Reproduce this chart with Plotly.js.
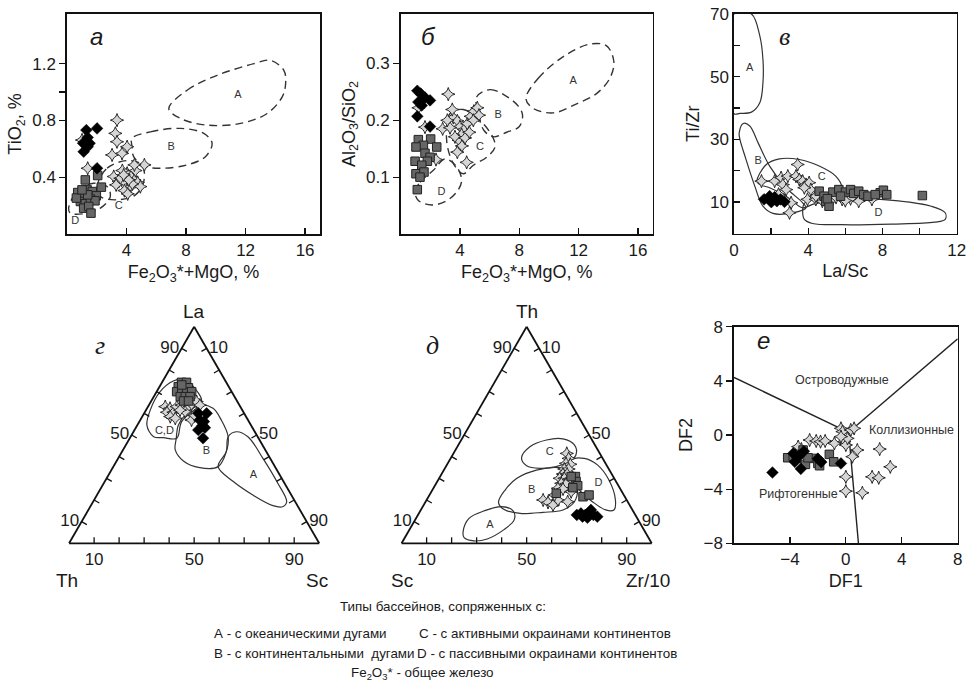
<!DOCTYPE html>
<html><head><meta charset="utf-8">
<script src="https://cdn.plot.ly/plotly-3.0.1.min.js"></script>
<style>html,body{margin:0;padding:0;background:#fff}#chart{width:967px;height:700px}</style>
</head><body><div id="chart"></div>
<script>
// ---------- Panel а: TiO2 vs Fe2O3*+MgO ----------
const a_fieldA = [[6.84,0.884],[8.07,1.013],[10.09,1.118],[12.56,1.2],[13.68,1.223],[14.57,1.153],[14.69,1.06],[14.46,0.966],[13.45,0.849],[11.66,0.779],[9.42,0.767],[7.62,0.814]];
const a_fieldB = [[4.37,0.674],[5.61,0.72],[7.62,0.744],[9.19,0.709],[9.75,0.639],[9.3,0.545],[8.07,0.487],[6.28,0.463],[5.16,0.48],[4.48,0.545],[4.37,0.615]];
const a_fieldC = [[2.02,0.334],[2.69,0.463],[4.04,0.517],[5.04,0.487],[5.16,0.37],[4.6,0.276],[3.36,0.241],[2.24,0.264]];
const a_fieldD = [[0.11,0.182],[0.67,0.299],[1.79,0.358],[2.69,0.334],[2.91,0.264],[2.24,0.182],[1.12,0.143],[0.22,0.147]];
const a_labels = [['A',11.48,0.978],['B',7.0,0.608],['C',3.48,0.194],['D',0.56,0.089]];
const a_diamonds = [[1.3,0.732],[2.02,0.744],[1.39,0.68],[1.23,0.643],[1.52,0.639],[1.12,0.58],[1.39,0.615],[2.02,0.463],[1.08,0.64]];
const a_squares = [[1.23,0.381],[2.06,0.412],[0.72,0.292],[1.01,0.26],[1.35,0.311],[1.7,0.299],[1.97,0.269],[2.31,0.33],[0.9,0.229],[1.23,0.213],[1.57,0.246],[1.88,0.234],[1.12,0.182],[1.46,0.194],[1.61,0.147],[0.63,0.253],[1.39,0.276],[1.01,0.311]];
const a_stars = [[3.36,0.802],[3.25,0.709],[3.36,0.65],[3.03,0.557],[3.7,0.568],[4.04,0.615],[1.39,0.463],[1.01,0.662],[3.14,0.405],[3.48,0.37],[3.81,0.353],[4.04,0.428],[4.3,0.405],[4.53,0.381],[4.75,0.363],[4.26,0.33],[3.86,0.306],[3.59,0.393],[4.6,0.447],[4.93,0.334],[5.2,0.487],[4.53,0.487],[3.72,0.447],[4.08,0.283],[4.39,0.353],[3.3,0.346],[4.15,0.381],[3.81,0.416]];

// ---------- Panel б: Al2O3/SiO2 vs Fe2O3*+MgO ----------
const b_fieldA = [[8.45,0.238],[9.28,0.274],[10.97,0.312],[12.76,0.334],[13.89,0.331],[14.38,0.303],[14.11,0.274],[13.21,0.247],[11.87,0.229],[10.29,0.213],[8.94,0.221]];
const b_fieldB = [[5.12,0.241],[6.02,0.254],[7.03,0.244],[7.93,0.225],[8.22,0.209],[8.0,0.189],[7.15,0.179],[6.25,0.171],[5.62,0.182],[5.24,0.212]];
const b_fieldC = [[3.33,0.212],[4.22,0.219],[5.35,0.2],[6.2,0.171],[6.36,0.153],[5.8,0.135],[4.9,0.121],[4.22,0.106],[3.55,0.124],[3.1,0.165]];
const b_fieldD = [[0.97,0.074],[1.3,0.091],[2.2,0.112],[2.99,0.132],[3.78,0.118],[4.11,0.094],[3.78,0.074],[2.99,0.057],[2.09,0.051],[1.19,0.059]];
const b_labels = [['A',11.64,0.268],['B',6.58,0.209],['C',5.35,0.153],['D',2.76,0.074]];
const b_diamonds = [[1.12,0.252],[1.35,0.247],[1.19,0.232],[1.42,0.226],[1.12,0.207],[1.98,0.235],[1.98,0.189],[1.64,0.24]];
const b_squares = [[1.19,0.166],[2.02,0.167],[1.53,0.156],[2.43,0.153],[1.03,0.153],[1.64,0.142],[1.98,0.135],[0.97,0.128],[1.8,0.128],[1.42,0.121],[1.03,0.106],[1.57,0.109],[1.3,0.1],[1.12,0.078]];
const b_stars = [[3.21,0.246],[2.83,0.185],[1.64,0.188],[2.38,0.131],[3.55,0.205],[3.82,0.199],[4.0,0.189],[4.27,0.184],[4.49,0.194],[4.72,0.207],[4.94,0.216],[5.17,0.222],[5.28,0.209],[4.11,0.175],[3.91,0.165],[3.66,0.171],[4.13,0.155],[3.82,0.144],[3.33,0.187],[4.34,0.169],[4.63,0.179],[4.9,0.2],[4.45,0.126],[3.15,0.2],[3.48,0.219],[1.2,0.222]];

// ---------- Panel в: Ti/Zr vs La/Sc ----------
const v_fieldA = [[0,70],[0.94,70],[1.39,63],[1.56,55.5],[1.56,48.1],[1.39,41.7],[0.94,38.7],[0.32,38.3],[0,38.2]];
const v_fieldB = [[0.28,32.1],[0.5,35.1],[0.85,34.3],[1.3,28.9],[1.92,21.5],[2.81,14.6],[3.7,9.8],[3.88,8.2],[3.16,6.6],[2.1,6.4],[1.56,8.7],[1.12,15.1],[0.59,24.7],[0.32,30]];
const v_fieldC = [[1.24,16.7],[1.74,22],[2.45,23.8],[3.52,23.6],[4.59,21.5],[5.48,18.3],[5.8,14.6],[5.3,10.9],[4.23,9.3],[3.7,8.2],[2.81,11.9],[1.92,14.6],[1.39,15.6]];
const v_fieldD = [[3.79,9.6],[4.41,10.9],[6.72,11.1],[8.85,10.4],[10.63,8.7],[11.38,6.6],[11.38,4.5],[10.81,3.6],[8.5,3],[5.83,2.8],[4.23,3.2],[3.79,4.5],[3.7,7.1]];
const v_labels = [['A',0.85,52.6],['B',1.3,23.1],['C',4.73,17.8],['D',7.79,6.6]];
const v_diamonds = [[1.62,10.9],[2.01,10],[2.19,11.6],[2.51,10.9],[2.72,10.1],[1.92,11.9],[2.31,10.3]];
const v_squares = [[4.59,13.5],[4.85,11.9],[4.94,10.3],[5.12,8.7],[5.33,13.2],[5.65,14],[6.01,13.2],[6.28,14],[6.45,12.8],[6.72,13.5],[6.99,12.4],[7.22,11.9],[7.88,13],[8.05,13.8],[8.23,12.4],[7.61,12.4],[10.15,12.1],[5.74,11.9],[5.03,11.1]];
const v_stars = [[1.48,16.7],[2.19,16.7],[2.54,17.8],[2.9,18.3],[3.43,22],[3.34,18.3],[3.52,17.2],[3.7,16.7],[3.88,15.6],[4.05,16.2],[4.14,14],[3.79,14.6],[2.63,15.6],[2.81,14],[3.08,9.8],[2.99,6.6],[3.96,10.9],[4.41,10.9],[4.76,10.3],[5.3,10.9],[5.83,10.9],[6.28,11.1],[6.72,10.3],[7.43,10.9],[4.41,11.9],[5.5,11.5],[6.0,10.5],[2.4,12.5]];

// ---------- Panel г: La – Th – Sc (ternary) ----------
const g_fieldCD = [[49.2,41.6,9.2],[54.6,41.6,3.8],[61.5,36.8,1.7],[70,28.6,1.4],[74.9,20.9,4.2],[75.8,15.7,8.5],[71.5,14,14.5],[65.4,14.3,20.3],[56.2,26.9,16.9],[48.5,32.7,18.8],[48.8,37.9,13.3]];
const g_fieldB = [[48.5,32.9,18.6],[54.6,29,16.4],[60,23,17],[63.8,15.8,20.4],[62.3,11.3,26.4],[56.9,10.7,32.4],[49.2,11.8,39],[42.3,16,41.7],[35.4,22.7,41.9],[34.9,30.3,34.8],[38,35.3,26.7],[43.1,36,20.9]];
const g_fieldA = [[49.2,11.8,39],[51.5,7.4,41.1],[49.2,3.9,46.9],[39.2,2.9,57.9],[27.7,2.7,69.6],[19.2,3.4,77.4],[16.9,6.2,76.9],[17.4,9.8,72.8],[22.3,15.4,62.3],[28.5,20.1,51.4],[35.4,22.7,41.9],[42.3,16,41.7]];
const g_labels = [['B',42.3,23.9,33.8],['A',31.5,10.5,58],['C,D',51.8,36,12.2]];
const g_squares = [[74.3,17.9,7.8],[74.3,15.9,9.8],[72.3,20.2,7.5],[71.8,18.4,9.8],[71.8,16.4,11.8],[70,22,8],[69.7,20.1,10.2],[69.7,18.1,12.2],[70,16,14],[67.7,21.7,10.6],[67.7,19.7,12.6],[67.7,17.8,14.5],[65.7,21.4,12.9],[65.7,19.4,14.9],[73.1,18.4,8.5]];
const g_stars = [[63.1,30,6.9],[62.3,28.5,9.2],[60.5,30.6,8.9],[60.5,28,11.5],[58.5,30.3,11.2],[63.1,25.4,11.5],[57.7,28.7,13.6],[63.8,23.1,13.1],[62.3,21.9,15.8],[64.2,18.9,16.9],[65.4,16.3,18.3],[63.8,15.8,20.4],[56.9,22.6,20.5],[58.9,20.3,20.8],[60.8,23.2,16],[61.5,24.9,13.6]];
const g_diamonds = [[60,18.3,21.7],[60,15,25],[56.9,19.3,23.8],[56.2,18,25.8],[54.3,19.5,26.2],[52.3,22.2,25.5],[53.4,19,27.6],[48.5,22.2,29.3]];

// ---------- Panel д: Th – Sc – Zr/10 (ternary) ----------
const d_fieldC = [[39.5,32.3,28.2],[44.6,26.4,29],[47.7,18.2,34.1],[48.2,11.4,40.4],[45.4,8.2,46.4],[40.8,9.9,49.3],[37.4,14.9,47.7],[35.4,20.5,44.1],[34.6,27.4,38],[35.8,32.1,32.1]];
const d_fieldB = [[18.9,51.8,29.3],[24.6,46.3,29.1],[30,38.9,31.1],[33.8,29.2,37],[34.9,19.4,45.7],[33.1,15,51.9],[26.2,16.5,57.3],[19.2,21.3,59.5],[15.4,27.8,56.8],[14.3,36.3,49.4],[13.8,45.7,40.5],[15.7,51.3,33]];
const d_fieldA = [[5.4,72.7,21.9],[11.5,67.3,21.2],[14.9,59.7,25.4],[16.9,51.5,31.6],[14.9,47.9,37.2],[10.8,49.6,39.6],[6.2,56.1,37.7],[2,64.8,33.2],[1.1,70.5,28.4],[2.6,73.7,23.7]];
const d_fieldD = [[38.5,12.9,48.6],[39.2,7.4,53.4],[36.2,3.6,60.2],[29.2,2.5,68.3],[20,4.5,75.5],[15.4,7.4,77.2],[15.4,10.7,73.9],[19.2,14.1,66.7],[23.8,16.4,59.8],[30,16.8,53.2],[34.6,15.9,49.5]];
const d_labels = [['C',41.8,19.9,38.3],['B',24.6,35.7,39.7],['A',8.5,60.4,31.1],['D',27.7,7.4,64.9]];
const d_stars = [[41.5,13.2,45.3],[39.2,13.6,47.2],[36.9,15.8,47.3],[36.5,14.3,49.2],[34.3,17.8,47.9],[34.3,16.1,49.6],[32,19.5,48.5],[32,17.8,50.2],[30,21.8,48.2],[30,19.9,50.1],[29.7,18,52.3],[27.7,22.3,50],[27.4,20.5,52.1],[25.4,24.8,49.8],[25.1,22.9,52],[20,33.4,46.6],[18.9,32,49.1],[17.7,30.6,51.7],[20,27.5,52.5],[19.2,24,56.8],[22.3,27.7,50],[23.8,20.3,55.9]];
const d_squares = [[30.8,15.1,54.1],[28.5,16,55.5],[26.6,16.3,57.1],[25.7,18.7,55.6],[23.1,26.6,50.3],[21.5,16.7,61.8],[22.3,13.9,63.8],[30.8,16.8,52.4]];
const d_diamonds = [[13.1,23.4,63.5],[13.8,21.4,64.8],[13.1,20,66.9],[14.3,17.9,67.8],[13.1,16.8,70.1],[12.3,15.6,72.1],[12.3,21.5,66.2],[15.4,16.6,68],[11.8,19.8,68.4]];

// ---------- Panel е: DF1 – DF2 ----------
const e_lineArc = [[-8,4.25],[0.2,0.2]];
const e_lineCol = [[0.2,0.2],[8,7.1]];
const e_lineRift = [[0.2,0.2],[0.9,-8]];
const e_labels = [['Островодужные',-0.28,4.0],['Коллизионные',4.7,0.3],['Рифтогенные',-3.4,-4.4]];
const e_diamonds = [[-5.25,-2.77],[-3.22,-2.5],[-3.65,-1.98],[-3.76,-1.36],[-2.0,-1.75],[-1.76,-2.0],[-0.35,-2.1],[-3.4,-1.6],[-3.0,-1.2]];
const e_squares = [[-4.16,-1.68],[-3.76,-1.6],[-3.41,-1.43],[-3.06,-1.11],[-2.89,-2.17],[-2.24,-1.73],[-2.0,-2.1],[-1.88,-2.27],[-1.18,-1.43],[-0.87,-1.98],[-2.71,-1.68],[-3.53,-1.73]];
const e_stars = [[-3.18,-1.04],[-2.59,-0.37],[-2.12,-0.44],[-1.81,-0.49],[-1.48,-0.44],[-0.82,-0.62],[-0.35,0.49],[-0.24,0.25],[-0.12,-0.49],[0,-0.74],[0.12,-0.25],[0.35,0.37],[0.59,0.49],[0.82,-1.11],[0.47,-1.6],[0,-3.09],[0,-4.15],[1.18,-4.27],[1.88,-3.09],[2.35,-3.16],[2.42,-1.04],[3.18,-2.35],[-0.35,-0.12],[-3.41,-0.86]];

// ternary tick values (every 10, labelled at 10 / 50 / 90)
const tern_ticks = [10,20,30,40,50,60,70,80,90];
const tern_labels = [10,50,90];

// ---------- styles ----------
const FONT = 'Liberation Sans, Arial, sans-serif';
const INK = '#1a1a1a';
const MK = {
  diamond: {symbol:'diamond', size:9, color:'#000', line:{color:'#000', width:0.5}},
  square: {symbol:'square', size:8.5, color:'#666', line:{color:'#222', width:1}},
  star: {symbol:'star-diamond', size:9.5, color:'#d6d6d6', line:{color:'#262626', width:1}}
};
const closed = p => p.concat([p[0]]);

function cField(pts, n, dash) {
  const q = closed(pts);
  return {type:'scatter', x:q.map(p=>p[0]), y:q.map(p=>p[1]), mode:'lines', xaxis:'x'+n, yaxis:'y'+n,
    line:{color:'#333', width:dash?1.4:1.2, dash:dash?'8px,5px':'solid', shape:'spline', smoothing:1}, hoverinfo:'skip'};
}
function cLine(pts, n) {
  return {type:'scatter', x:pts.map(p=>p[0]), y:pts.map(p=>p[1]), mode:'lines', xaxis:'x'+n, yaxis:'y'+n,
    line:{color:'#222', width:1.4}, hoverinfo:'skip'};
}
function cPts(pts, n, mk) {
  return {type:'scatter', x:pts.map(p=>p[0]), y:pts.map(p=>p[1]), mode:'markers', xaxis:'x'+n, yaxis:'y'+n, marker:mk, hoverinfo:'skip'};
}
function cText(lab, n, size) {
  return {type:'scatter', x:lab.map(p=>p[1]), y:lab.map(p=>p[2]), text:lab.map(p=>p[0]), mode:'text', xaxis:'x'+n, yaxis:'y'+n,
    textfont:{size:size||11, color:'#333', family:FONT}, hoverinfo:'skip'};
}
function tField(pts, sp) {
  const q = closed(pts);
  return {type:'scatterternary', subplot:sp, a:q.map(p=>p[0]), b:q.map(p=>p[1]), c:q.map(p=>p[2]), mode:'lines',
    line:{color:'#333', width:1.2, shape:'spline', smoothing:1}, hoverinfo:'skip'};
}
function tPts(pts, sp, mk) {
  return {type:'scatterternary', subplot:sp, a:pts.map(p=>p[0]), b:pts.map(p=>p[1]), c:pts.map(p=>p[2]), mode:'markers', marker:mk, hoverinfo:'skip'};
}
function tText(lab, sp) {
  return {type:'scatterternary', subplot:sp, a:lab.map(p=>p[1]), b:lab.map(p=>p[2]), c:lab.map(p=>p[3]), text:lab.map(p=>p[0]), mode:'text',
    textfont:{size:11, color:'#333', family:FONT}, hoverinfo:'skip'};
}

const traces = [
  cField(a_fieldA,'',true), cField(a_fieldB,'',true), cField(a_fieldC,'',true), cField(a_fieldD,'',true), cText(a_labels,''),
  cPts(a_stars,'',MK.star), cPts(a_squares,'',MK.square), cPts(a_diamonds,'',MK.diamond),
  cField(b_fieldA,'2',true), cField(b_fieldB,'2',true), cField(b_fieldC,'2',true), cField(b_fieldD,'2',true), cText(b_labels,'2'),
  cPts(b_stars,'2',MK.star), cPts(b_squares,'2',MK.square), cPts(b_diamonds,'2',MK.diamond),
  cField(v_fieldA,'3',false), cField(v_fieldB,'3',false), cField(v_fieldC,'3',false), cField(v_fieldD,'3',false), cText(v_labels,'3'),
  cPts(v_stars,'3',MK.star), cPts(v_squares,'3',MK.square), cPts(v_diamonds,'3',MK.diamond),
  cLine(e_lineArc,'4'), cLine(e_lineCol,'4'), cLine(e_lineRift,'4'), cText(e_labels,'4',12.5),
  cPts(e_stars,'4',MK.star), cPts(e_squares,'4',MK.square), cPts(e_diamonds,'4',MK.diamond),
  tField(g_fieldCD,'ternary'), tField(g_fieldB,'ternary'), tField(g_fieldA,'ternary'), tText(g_labels,'ternary'),
  tPts(g_stars,'ternary',MK.star), tPts(g_squares,'ternary',MK.square), tPts(g_diamonds,'ternary',MK.diamond),
  tField(d_fieldC,'ternary2'), tField(d_fieldB,'ternary2'), tField(d_fieldA,'ternary2'), tField(d_fieldD,'ternary2'), tText(d_labels,'ternary2'),
  tPts(d_stars,'ternary2',MK.star), tPts(d_squares,'ternary2',MK.square), tPts(d_diamonds,'ternary2',MK.diamond)
];

const W = 967, H = 700;
const px = (a,b) => [a/W, b/W];
const py = (top,bot) => [1-bot/H, 1-top/H];

function ax(extra) {
  return Object.assign({showline:true, mirror:true, linecolor:'#111', linewidth:1.6, showgrid:false, zeroline:false,
    ticks:'outside', ticklen:6, tickcolor:'#111', tickwidth:1.3, tickfont:{size:17, color:INK}, fixedrange:true,
    automargin:false, tickmode:'array'}, extra);
}
function ttl(t) { return {text:t, font:{size:18, color:INK}, standoff:6}; }

// b-axis labels run along the bottom edge; label them as in the source (10 near the left corner)
function tax(isB) {
  return {title:{text:''}, min:0, linecolor:'#111', linewidth:1.8, showgrid:false,
    ticks:'', tickmode:'array', tickvals:tern_labels,
    ticktext: isB ? tern_labels.map(v => String(100 - v)) : tern_labels.map(String),
    tickfont:{size:17, color:INK}, showline:true};
}

const ternDomG = {x:px(68.3,320), y:py(326.7,543.3)};
const ternDomD = {x:px(400,653.3), y:py(326.7,543.3)};

// inward tick marks of a ternary frame, placed with the same geometry Plotly uses for the triangle in its domain
function ternTickShapes(dom) {
  const x0 = dom.x[0]*W, x1 = dom.x[1]*W, yT = (1-dom.y[1])*H, yB = (1-dom.y[0])*H;
  const r = 2/Math.sqrt(3);
  let h = yB - yT, w = h * r;
  if (w > x1 - x0) { w = x1 - x0; h = w / r; }
  const cx = (x0 + x1)/2, cy = (yT + yB)/2;
  const A = [cx, cy - h/2], B = [cx - w/2, cy + h/2], C = [cx + w/2, cy + h/2];
  const pt = (a,b,c) => [(a*A[0]+b*B[0]+c*C[0])/100, (a*A[1]+b*B[1]+c*C[1])/100];
  const len = 6, out = [];
  const add = (p, n) => out.push({type:'line', xref:'paper', yref:'paper', layer:'above',
    x0:p[0]/W, y0:1-p[1]/H, x1:(p[0]+n[0]*len)/W, y1:1-(p[1]+n[1]*len)/H, line:{color:'#111', width:1.3}});
  tern_ticks.forEach(v => {
    add(pt(v, 100-v, 0), [0.866, 0.5]);     // left edge
    add(pt(100-v, 0, v), [-0.866, 0.5]);    // right edge
    add(pt(0, 100-v, v), [0, -1]);          // bottom edge
  });
  return out;
}

const layout = {
  width:W, height:H, margin:{l:0, r:0, t:0, b:0}, paper_bgcolor:'#fff', plot_bgcolor:'#fff',
  showlegend:false, font:{family:FONT, color:INK},
  xaxis: ax({domain:px(67,320), range:[0,17], tickvals:[4,8,12,16], ticks:'inside', anchor:'y', title:ttl('Fe<sub>2</sub>O<sub>3</sub>*+MgO, %')}),
  yaxis: ax({domain:py(14,234), range:[0,1.55], tickvals:[0.4,0.8,1.2], anchor:'x', title:ttl('TiO<sub>2</sub>, %'),
    minor:{tickvals:[1.0], ticks:'outside', ticklen:6, tickcolor:'#111', tickwidth:1.3}}),
  xaxis2: ax({domain:px(400.7,652.7), range:[0,17], tickvals:[4,8,12,16], ticks:'inside', anchor:'y2', title:ttl('Fe<sub>2</sub>O<sub>3</sub>*+MgO, %')}),
  yaxis2: ax({domain:py(14,234), range:[0,0.387], tickvals:[0.1,0.2,0.3], anchor:'x2', title:ttl('Al<sub>2</sub>O<sub>3</sub>/SiO<sub>2</sub>')}),
  xaxis3: ax({domain:px(734,956.7), range:[0,12], tickvals:[0,4,8,12], ticks:'inside', anchor:'y3', title:ttl('La/Sc'),
    minor:{tickvals:[2,6,10], ticks:'inside', ticklen:6, tickcolor:'#111', tickwidth:1.3}}),
  yaxis3: ax({domain:py(14,233.5), range:[0,70], tickvals:[10,30,50,70], ticks:'inside', anchor:'x3', title:ttl('Ti/Zr'),
    minor:{tickvals:[20,40,60], ticks:'inside', ticklen:6, tickcolor:'#111', tickwidth:1.3}}),
  xaxis4: ax({domain:px(734,957.7), range:[-8,8], tickvals:[-4,0,4,8], ticks:'inside', anchor:'y4', title:ttl('DF1')}),
  yaxis4: ax({domain:py(326.7,543.3), range:[-8,8], tickvals:[-8,-4,0,4,8], anchor:'x4', title:ttl('DF2')}),
  ternary: {domain:ternDomG, sum:100, bgcolor:'rgba(0,0,0,0)',
    aaxis:tax(false), baxis:tax(true), caxis:tax(false)},
  ternary2: {domain:ternDomD, sum:100, bgcolor:'rgba(0,0,0,0)',
    aaxis:tax(false), baxis:tax(true), caxis:tax(false)},
  shapes: ternTickShapes(ternDomG).concat(ternTickShapes(ternDomD)),
  annotations: []
};

function note(text, x, y, opt) {
  return Object.assign({text:text, xref:'paper', yref:'paper', x:x/W, y:1-y/H, showarrow:false,
    xanchor:'center', yanchor:'middle', font:{size:13.4, color:INK, family:FONT}}, opt||{});
}
const sansIt = {font:{size:24, color:INK, family:FONT}};
const serifIt = {font:{size:26, color:INK, family:'Liberation Serif, Times New Roman, serif'}};
const corner = {font:{size:19, color:INK, family:FONT}};
layout.annotations.push(
  note('<i>а</i>', 96, 37, sansIt),
  note('<i>б</i>', 428, 37, sansIt),
  note('<i>в</i>', 784, 37, serifIt),
  note('<i>г</i>', 100, 345, serifIt),
  note('<i>д</i>', 432, 345, serifIt),
  note('<i>е</i>', 763, 340, sansIt),
  // ternary corner titles
  note('La', 194, 311, corner),
  note('Th', 67, 580, corner),
  note('Sc', 317, 580, corner),
  note('Th', 527, 311, corner),
  note('Sc', 402, 580, corner),
  note('Zr/10', 648, 580, corner),
  // explanation
  note('Типы бассейнов, сопряженных с:', 443, 606),
  note('А - с океаническими дугами', 212, 633, {xanchor:'left'}),
  note('С - с активными окраинами континентов', 417, 633, {xanchor:'left'}),
  note('В - с континентальными  дугами', 212, 653, {xanchor:'left'}),
  note('D - с пассивными окраинами континентов', 415, 653, {xanchor:'left'}),
  note('Fe<sub>2</sub>O<sub>3</sub>* - общее железо', 422, 673)
);

Plotly.newPlot('chart', traces, layout, {staticPlot:true, displayModeBar:false});
</script>
</body></html>
